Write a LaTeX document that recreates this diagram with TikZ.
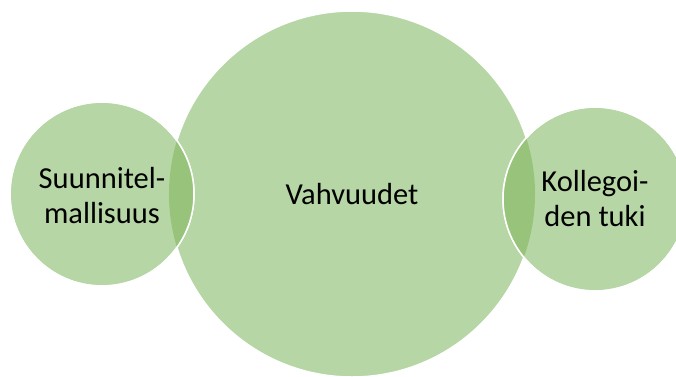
\documentclass[tikz,border=0pt]{standalone}
\usepackage{fontspec}
\setmainfont{Carlito}
\usepackage{tikz}

\definecolor{lightleaf}{HTML}{B7D6A5}
\definecolor{darkleaf}{HTML}{97C47A}

\tikzset{
  bubble/.style={circle, fill=lightleaf, draw=white, line width=1.5pt, inner sep=0pt},
  rim/.style={draw=white, line width=1.5pt},
  word/.style={font=\fontsize{30.5}{35}\selectfont, align=center, text=black}
}

\begin{document}
\begin{tikzpicture}[x=1pt,y=1pt]
    \useasboundingbox (0,0) rectangle (676,376);
    \clip (0,0) rectangle (676,376);

    % Centre circle
    \node[bubble, minimum size=366pt] (vahvuudet) at (352,182) {};

    % Side circles
    \node[bubble, minimum size=184pt] (suunnitel) at (102,182) {};
    \node[bubble, minimum size=184pt] (kollegat) at (595,177) {};

    % Darker overlaps
    \begin{scope}
        \clip (vahvuudet.center) circle (183);
        \fill[darkleaf] (suunnitel.center) circle (92);
        \fill[darkleaf] (kollegat.center) circle (92);
    \end{scope}
    \draw[rim] (suunnitel.center) circle (92);
    \draw[rim] (kollegat.center) circle (92);

    % Labels
    \node[word] (vahvuudet-text) at (vahvuudet.center) {Vahvuudet};
    \node[word] (suunnitel-text) at ([yshift=-2]suunnitel.center) {Suunnitel-\\mallisuus};
    \node[word] (kollegat-text) at (kollegat.center) {Kollegoi-\\den tuki};
\end{tikzpicture}
\end{document}
